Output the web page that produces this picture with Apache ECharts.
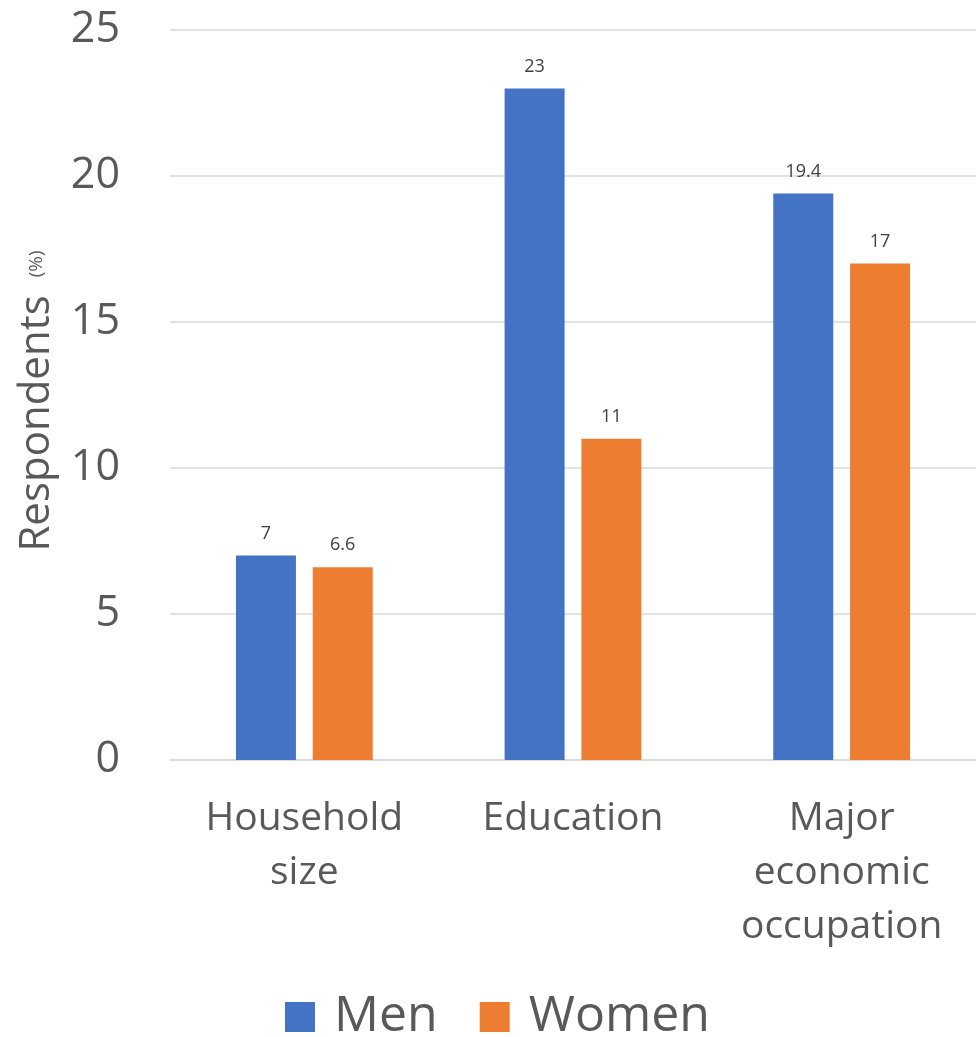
<!DOCTYPE html>
<html>
<head>
<meta charset="utf-8">
<script src="https://cdn.jsdelivr.net/npm/echarts@6/dist/echarts.min.js"></script>
<style>
html,body{margin:0;padding:0;background:#fff;}
#chart{width:976px;height:1037px;}
</style>
</head>
<body>
<div id="chart"></div>
<script>
var categories = ['Household\nsize', 'Education', 'Major\neconomic\noccupation'];
var menValues = [7, 23, 19.4];
var womenValues = [6.6, 11, 17];
var seriesNames = ['Men', 'Women'];
var yTicks = {min: 0, max: 25, interval: 5};

var chart = echarts.init(document.getElementById('chart'));
var font = '"Open Sans", "Noto Sans", sans-serif';
var labelStyle = {show: true, position: 'top', distance: 13, fontSize: 18, color: '#404040', fontFamily: font};
chart.setOption({
  animation: false,
  textStyle: {fontFamily: font},
  grid: {left: 170, right: 0, top: 30, bottom: 277, containLabel: false, outerBoundsMode: 'none'},
  legend: {
    bottom: -5, left: 285,
    itemWidth: 30, itemHeight: 30, itemGap: 42,
    icon: 'rect',
    padding: 0,
    textStyle: {fontSize: 50, color: '#595959', fontFamily: font, padding: [0, 0, 0, 14]},
    data: seriesNames
  },
  xAxis: {
    type: 'category',
    data: categories,
    axisLine: {show: true, lineStyle: {color: '#d9d9d9', width: 1.5}},
    axisTick: {show: false},
    axisLabel: {fontSize: 39, color: '#595959', margin: 32, lineHeight: 54, fontFamily: font, interval: 0}
  },
  yAxis: {
    type: 'value',
    min: yTicks.min, max: yTicks.max, interval: yTicks.interval,
    name: '{a|Respondents}{b|(%)}',
    nameLocation: 'middle',
    nameGap: 112,
    nameRotate: 90,
    nameTextStyle: {
      rich: {
        a: {fontSize: 42, color: '#595959', fontFamily: font},
        b: {fontSize: 19, color: '#595959', fontFamily: font, padding: [0, 12, 0, 18]}
      }
    },
    axisLine: {show: false},
    axisTick: {show: false},
    splitLine: {lineStyle: {color: '#d9d9d9', width: 1.5}},
    axisLabel: {fontSize: 43, color: '#595959', margin: 50, fontFamily: font}
  },
  series: [
    {name: seriesNames[0], type: 'bar', data: menValues, barWidth: 60, barGap: '28%',
     itemStyle: {color: '#4472C4'}, label: labelStyle},
    {name: seriesNames[1], type: 'bar', data: womenValues, barWidth: 60, barGap: '28%',
     itemStyle: {color: '#ED7D31'}, label: labelStyle}
  ]
});
</script>
</body>
</html>
